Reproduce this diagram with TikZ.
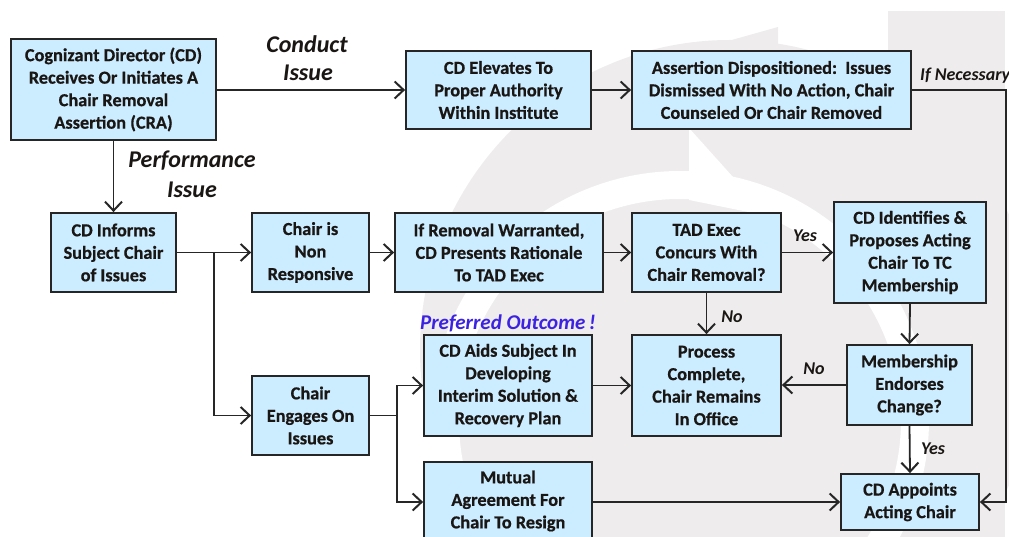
\documentclass[tikz,border=0pt]{standalone}
\usepackage{fontspec}
\setmainfont{Carlito}[BoldFeatures={FakeBold=0.6}]
\usetikzlibrary{arrows.meta}
\definecolor{boxfill}{RGB}{204,236,255}
\definecolor{boxline}{RGB}{38,38,38}
\definecolor{txt}{RGB}{25,22,20}
\definecolor{wm}{RGB}{238,236,236}
\definecolor{pref}{RGB}{60,35,225}
\tikzset{
  box/.style={draw=boxline, line width=1.8pt, fill=boxfill, align=center, text=txt,
    font=\bfseries\fontsize{18.3}{22.5}\selectfont, inner sep=0pt},
  conn/.style={draw=boxline, line width=1.8pt,
    -{Straight Barb[length=9pt,width=17pt,line width=2pt]}},
  plain/.style={draw=boxline, line width=1.8pt},
  lab/.style={font=\bfseries\itshape\fontsize{18}{20}\selectfont, text=txt, inner sep=0pt},
  biglab/.style={font=\bfseries\itshape\fontsize{24}{26}\selectfont, text=txt, inner sep=0pt},
}
\begin{document}
\begin{tikzpicture}[x=1pt,y=-1pt]
\useasboundingbox (0,0) rectangle (1009,537);
% watermark
\begin{scope}
\clip (0,0) rectangle (1009,537);
\fill[wm] (888,11) rectangle (1005,537);
\fill[wm] (730,350) circle[radius=310pt];
\fill[wm] (689,52) -- (778,27) -- (778,120) -- (689,120) -- cycle;
\draw[white, line width=28pt] (680,420) circle[radius=235pt];
\fill[white] (689,128) -- (689,200) -- (768,216) -- cycle;
\end{scope}
% boxes
\node[box, minimum width=205pt, minimum height=101pt] (cra) at (113.5,89.5)
  {Cognizant Director (CD)\\Receives Or Initiates A\\Chair Removal\\Assertion (CRA)};
\node[box, minimum width=185pt, minimum height=78pt] (elev) at (498.5,90)
  {CD Elevates To\\Proper Authority\\Within Institute};
\node[box, minimum width=279pt, minimum height=78pt] (disp) at (771.5,90)
  {Assertion Dispositioned:~~Issues\\Dismissed With No Action, Chair\\Counseled Or Chair Removed};
\node[box, minimum width=125pt, minimum height=79pt] (inform) at (113.5,252.5)
  {CD Informs\\Subject Chair\\of Issues};
\node[box, minimum width=117pt, minimum height=79pt] (nonresp) at (310.5,252.5)
  {Chair is\\Non\\Responsive};
\node[box, minimum width=208pt, minimum height=79pt] (removal) at (499,252.5)
  {If Removal Warranted,\\CD Presents Rationale\\To TAD Exec};
\node[box, minimum width=149pt, minimum height=79pt] (tad) at (706.5,252.5)
  {TAD Exec\\Concurs With\\Chair Removal?};
\node[box, minimum width=152pt, minimum height=101pt] (ident) at (910,252.5)
  {CD Identifies \&\\Proposes Acting\\Chair To TC\\Membership};
\node[box, minimum width=168pt, minimum height=101pt] (aids) at (508,385.5)
  {CD Aids Subject In\\Developing\\Interim Solution \&\\Recovery Plan};
\node[box, minimum width=149pt, minimum height=101pt] (process) at (706.5,385.5)
  {Process\\Complete,\\Chair Remains\\In Office};
\node[box, minimum width=125pt, minimum height=80pt] (member) at (909.5,385)
  {Membership\\Endorses\\Change?};
\node[box, minimum width=117pt, minimum height=79pt] (engage) at (310.5,415.5)
  {Chair\\Engages On\\Issues};
\node[box, minimum width=168pt, minimum height=78pt] (mutual) at (508,501)
  {Mutual\\Agreement For\\Chair To Resign};
\node[box, minimum width=138pt, minimum height=56pt] (appoint) at (910,502)
  {CD Appoints\\Acting Chair};
% labels
\node[biglab] (lconduct) at (307,44) {Conduct};
\node[biglab] (lconduct2) at (308,73) {Issue};
\node[biglab] (lperf) at (192,161) {Performance};
\node[biglab] (lperf2) at (192,190) {Issue};
\node[lab, anchor=west] (lnec) at (920,76) {If Necessary};
\node[lab] (lyes1) at (805,236) {Yes};
\node[lab] (lno1) at (732,317) {No};
\node[lab] (lno2) at (814,369) {No};
\node[lab] (lyes2) at (933,449) {Yes};
\node[font=\bfseries\itshape\fontsize{21}{24}\selectfont, text=pref, inner sep=0pt] (lpref) at (508,323) {Preferred Outcome\,!};
% connectors
\coordinate (c1) at (1006,90);
\coordinate (c2) at (1006,502);
\coordinate (b1) at (214,252.5);
\coordinate (b2) at (214,415.5);
\coordinate (b3) at (397,415.5);
\coordinate (b4) at (397,385.5);
\coordinate (b5) at (397,502);
\draw[conn] (cra.east |- elev.west) -- (elev.west);
\draw[conn] (elev.east) -- (disp.west);
\draw[conn] (disp.east) -- (c1) -- (c2) -- (appoint.east);
\draw[conn] (cra.south) -- (inform.north);
\draw[conn] (inform.east) -- (nonresp.west);
\draw[conn] (b1) -- (b2) -- (engage.west);
\draw[conn] (nonresp.east) -- (removal.west);
\draw[conn] (removal.east) -- (tad.west);
\draw[conn] (tad.east) -- (ident.west);
\draw[conn] (tad.south) -- (process.north);
\draw[conn] (ident.south) -- (member.north);
\draw[conn] (member.west) -- (process.east |- member.west);
\draw[conn] (member.south) -- (appoint.north);
\draw[plain] (engage.east) -- (b3);
\draw[conn] (b3) -- (b4) -- (aids.west);
\draw[conn] (b3) -- (b5) -- (mutual.west |- b5);
\draw[conn] (aids.east) -- (process.west |- aids.east);
\draw[conn] (mutual.east |- appoint.west) -- (appoint.west);
\end{tikzpicture}
\end{document}
